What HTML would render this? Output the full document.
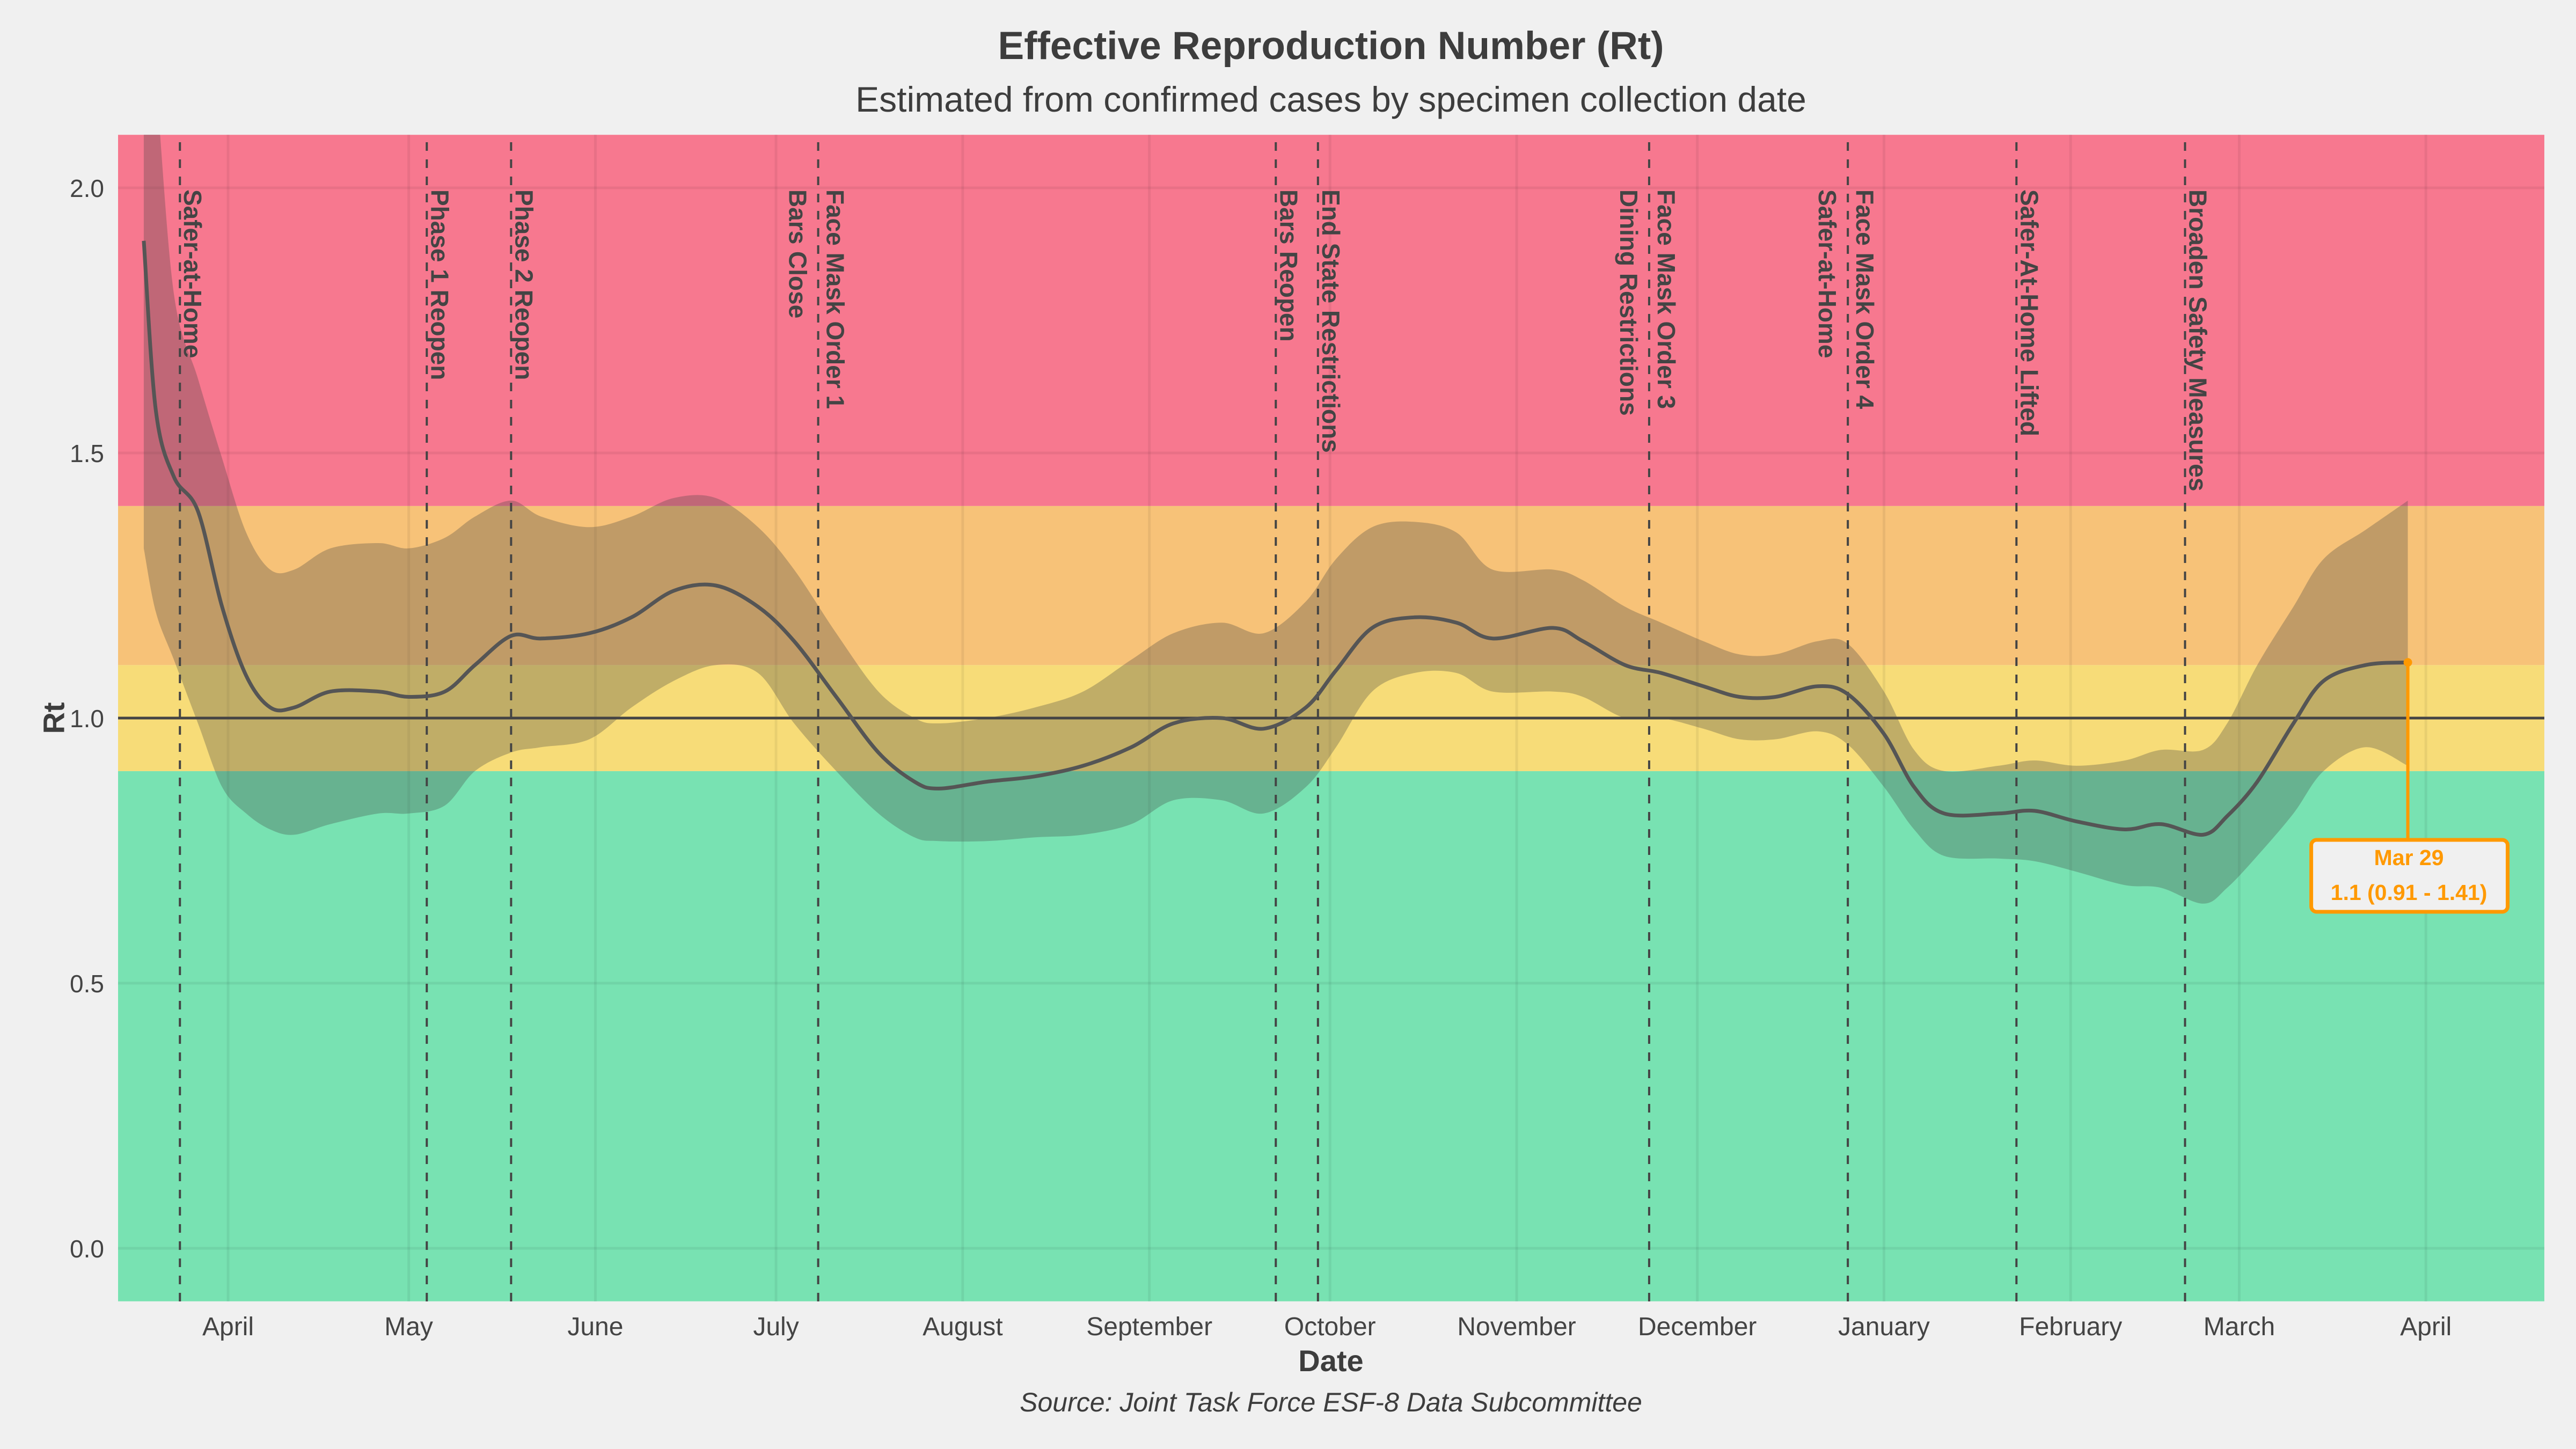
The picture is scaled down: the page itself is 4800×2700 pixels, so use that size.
<!DOCTYPE html>
<html><head><meta charset="utf-8"><title>Effective Reproduction Number (Rt)</title>
<style>html,body{margin:0;padding:0;background:#f0f0f0}svg{display:block}text{font-family:"Liberation Sans",Arial,sans-serif}</style>
</head><body>
<svg id="chart" width="4800" height="2700" viewBox="0 0 4800 2700" xmlns="http://www.w3.org/2000/svg">
<rect width="4800" height="2700" fill="#f0f0f0"/>
<text x="2480" y="110" text-anchor="middle" font-size="73" font-weight="bold" fill="#3d3d3d">Effective Reproduction Number (Rt)</text>
<text x="2480" y="208" text-anchor="middle" font-size="66" fill="#3d3d3d">Estimated from confirmed cases by specimen collection date</text>
<defs><clipPath id="pc"><rect x="220" y="251" width="4521" height="2174"/></clipPath></defs>
<g id="plot" clip-path="url(#pc)"></g>
<g id="axes"></g>
<text x="100" y="1338" text-anchor="middle" font-size="56" font-weight="bold" fill="#3d3d3d" transform="rotate(-90 100 1338)" dominant-baseline="central">Rt</text>
<text x="2480" y="2555" text-anchor="middle" font-size="56" font-weight="bold" fill="#3d3d3d">Date</text>
<text x="2480" y="2630" text-anchor="middle" font-size="50" font-style="italic" fill="#3d3d3d">Source: Joint Task Force ESF-8 Data Subcommittee</text>
</svg>
<script>
// days since 2020-04-01
const days = [-14,-12,-9,-5,-1,3,7,11,17,25,30,36,41,47,52,60,67,74,81,88,94,101,108,114,118,126,134,142,150,157,165,172,179,184,190,197,204,210,220,225,232,238,245,251,257,264,269,275,280,285,294,300,307,315,321,328,332,337,343,348,355,362];
const rtMean = [1.90,1.58,1.455,1.39,1.21,1.08,1.02,1.02,1.05,1.05,1.04,1.05,1.10,1.155,1.15,1.16,1.19,1.24,1.25,1.21,1.145,1.04,0.935,0.88,0.867,0.88,0.89,0.91,0.945,0.99,1.0,0.98,1.02,1.09,1.17,1.19,1.18,1.15,1.17,1.145,1.10,1.085,1.06,1.04,1.04,1.06,1.045,0.97,0.87,0.82,0.82,0.825,0.805,0.79,0.80,0.78,0.815,0.88,0.99,1.07,1.10,1.105];
const rtUpper = [2.4,2.2,1.8,1.64,1.49,1.35,1.28,1.28,1.32,1.33,1.32,1.34,1.38,1.41,1.38,1.36,1.38,1.415,1.415,1.36,1.28,1.16,1.05,1.0,0.99,1.0,1.02,1.05,1.11,1.16,1.18,1.16,1.22,1.30,1.36,1.37,1.35,1.28,1.28,1.26,1.21,1.18,1.145,1.12,1.12,1.145,1.14,1.05,0.94,0.90,0.91,0.92,0.91,0.92,0.94,0.94,0.99,1.10,1.21,1.30,1.355,1.41];
const rtLower = [1.32,1.2,1.11,0.99,0.87,0.82,0.79,0.78,0.80,0.82,0.82,0.835,0.90,0.935,0.945,0.96,1.02,1.07,1.10,1.085,0.99,0.90,0.82,0.775,0.768,0.768,0.775,0.78,0.80,0.845,0.845,0.82,0.87,0.945,1.05,1.085,1.085,1.05,1.05,1.04,1.0,1.0,0.98,0.96,0.96,0.975,0.95,0.87,0.79,0.74,0.735,0.73,0.71,0.685,0.68,0.65,0.68,0.74,0.82,0.90,0.945,0.91];
const eventDays = [-8,33,47,98,174,181,236,269,297,325];
const eventLabels = [["Safer-at-Home"],["Phase 1 Reopen"],["Phase 2 Reopen"],["Face Mask Order 1","Bars Close"],["Bars Reopen"],["End State Restrictions"],["Face Mask Order 3","Dining Restrictions"],["Face Mask Order 4","Safer-at-Home"],["Safer-At-Home Lifted"],["Broaden Safety Measures"]];
const monthDays = [0,30,61,91,122,153,183,214,244,275,306,334,365];
const monthLabels = ["April","May","June","July","August","September","October","November","December","January","February","March","April"];
const yTicks = [0,0.5,1,1.5,2];
const yTickLabels = ["0.0","0.5","1.0","1.5","2.0"];
const zoneBounds = [-0.1,0.9,1.1,1.4,2.1];
const zoneColors = ["#78e2b2","#f7dc78","#f7c278","#f7788f"];
const annotDate = "Mar 29";

const X0=220,X1=4741,Y0=251,Y1=2425;
const xs=d=>425+d*11.22;
const ys=v=>2326-v*988;
const NS="http://www.w3.org/2000/svg";
function mk(tag,attrs,parent){const e=document.createElementNS(NS,tag);for(const k in attrs)e.setAttribute(k,attrs[k]);parent.appendChild(e);return e;}
const plot=document.getElementById('plot'),axes=document.getElementById('axes');

for(let i=0;i<zoneColors.length;i++){
  const r=mk('rect',{x:X0,y:ys(zoneBounds[i+1]),width:X1-X0,height:ys(zoneBounds[i])-ys(zoneBounds[i+1]),fill:zoneColors[i]},plot);
  
  
}
monthDays.forEach((d,i)=>{
  const l=mk('line',{x1:xs(d),x2:xs(d),y1:Y0,y2:Y1,stroke:'rgba(0,0,0,0.06)','stroke-width':5},plot);
  
  
  const t=mk('text',{x:xs(d),y:2488,'text-anchor':'middle','font-size':48,fill:'#444'},axes);
  t.textContent=monthLabels[i];
  
  
});
yTicks.forEach((v,i)=>{
  const l=mk('line',{x1:X0,x2:X1,y1:ys(v),y2:ys(v),stroke:'rgba(0,0,0,0.06)','stroke-width':5},plot);
  
  
  const t=mk('text',{x:194,y:ys(v)+17,'text-anchor':'end','font-size':46,fill:'#444'},axes);
  t.textContent=yTickLabels[i];
  
  
});
function smooth(pts){
  let d='M'+pts[0][0]+','+pts[0][1];
  for(let i=0;i<pts.length-1;i++){
    const p0=pts[i-1]||pts[i],p1=pts[i],p2=pts[i+1],p3=pts[i+2]||p2;
    const c1=[p1[0]+(p2[0]-p0[0])/6,p1[1]+(p2[1]-p0[1])/6],c2=[p2[0]-(p3[0]-p1[0])/6,p2[1]-(p3[1]-p1[1])/6];
    d+=' C'+c1[0].toFixed(1)+','+c1[1].toFixed(1)+' '+c2[0].toFixed(1)+','+c2[1].toFixed(1)+' '+p2[0].toFixed(1)+','+p2[1].toFixed(1);
  }
  return d;
}
const up=days.map((d,i)=>[xs(d),ys(rtUpper[i])]);
const lo=days.map((d,i)=>[xs(d),ys(rtLower[i])]).reverse();
const loD=smooth(lo);
const bandD=smooth(up)+' L'+lo[0][0]+','+lo[0][1]+loD.slice(loD.indexOf(' '))+' Z';
const band=mk('path',{d:bandD,fill:'rgba(66,66,66,0.3)'},plot);


const ref=mk('line',{x1:X0,x2:X1,y1:ys(1),y2:ys(1),stroke:'#444','stroke-width':5},plot);


eventDays.forEach((d,i)=>{
  const l=mk('line',{x1:xs(d),x2:xs(d),y1:Y0+14,y2:Y1,stroke:'#444','stroke-width':4,'stroke-dasharray':'16 16'},plot);
  
  
  eventLabels[i].forEach((s,j)=>{
    const two=eventLabels[i].length>1;
    const cx=xs(d)+(two?(j===0?32:-38):24);
    const t=mk('text',{x:cx,y:353,'font-size':46,'font-weight':'bold',fill:'#444','dominant-baseline':'central',transform:'rotate(90 '+cx+' 353)'},plot);
    t.textContent=s;
    
    
  });
});
const mean=mk('path',{d:smooth(days.map((d,i)=>[xs(d),ys(rtMean[i])])),fill:'none',stroke:'#555','stroke-width':7,'stroke-linejoin':'round'},plot);



// annotation
const n=days.length-1,ax=xs(days[n]),ay=ys(rtMean[n]);
const ag=mk('g',{},document.getElementById('chart'));


mk('line',{x1:ax,x2:ax,y1:ay,y2:1565,stroke:'#ff9900','stroke-width':6},ag);
mk('circle',{cx:ax,cy:ay,r:8,fill:'#ff9900'},ag);
mk('rect',{x:ax-180,y:1565,width:366,height:134,rx:10,fill:'#f0f0f0',stroke:'#ff9900','stroke-width':7},ag);
const t1=mk('text',{x:ax+2,y:1612,'text-anchor':'middle','font-size':41,'font-weight':'bold',fill:'#ff9900'},ag);
t1.textContent=annotDate;
const t2=mk('text',{x:ax+2,y:1677,'text-anchor':'middle','font-size':41,'font-weight':'bold',fill:'#ff9900'},ag);
t2.textContent=rtMean[n].toFixed(1)+' ('+rtLower[n].toFixed(2)+' - '+rtUpper[n].toFixed(2)+')';
</script>
</body></html>
